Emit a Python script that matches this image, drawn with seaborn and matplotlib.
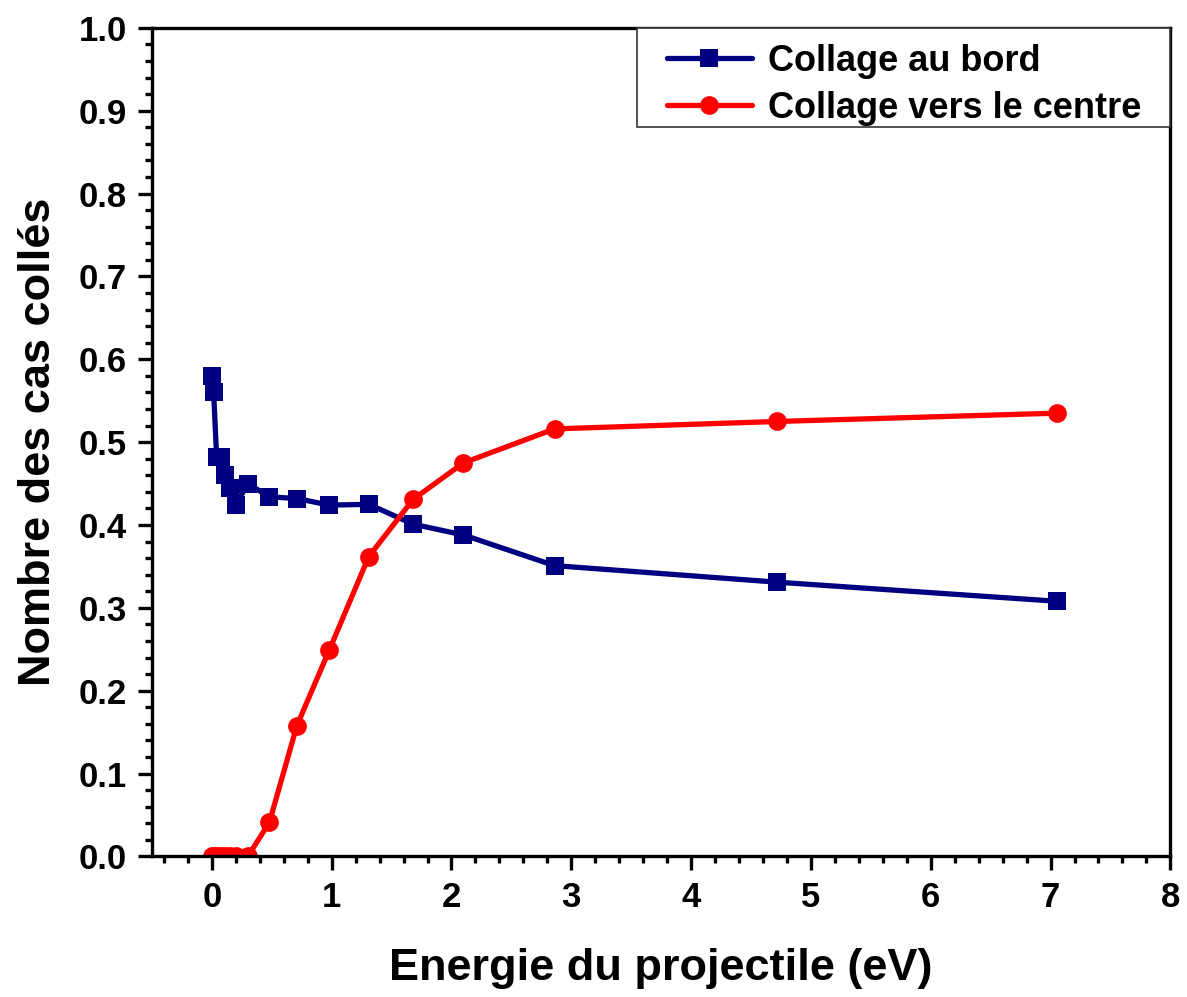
import pandas as pd
import matplotlib
matplotlib.use('Agg')
import matplotlib.pyplot as plt
import seaborn as sns
from matplotlib.patches import Rectangle
from matplotlib.ticker import MultipleLocator, AutoMinorLocator

# Valeurs
energie = [0, 0.015, 0.04, 0.075, 0.11, 0.15, 0.2, 0.3, 0.48, 0.71, 0.98,
           1.31, 1.68, 2.1, 2.86, 4.72, 7.05]
collage_bord = [0.58, 0.56, 0.482, 0.482, 0.46, 0.445, 0.424, 0.45, 0.434, 0.432,
                0.424, 0.425, 0.401, 0.388, 0.351, 0.331, 0.308]
collage_centre = [0, 0, 0, 0, 0, 0, 0, 0, 0.041, 0.158, 0.249,
                  0.362, 0.431, 0.475, 0.516, 0.525, 0.535]
series = ['Collage au bord', 'Collage vers le centre']

sns.set_style('ticks', {'axes.edgecolor': 'black', 'text.color': 'black',
                        'axes.labelcolor': 'black', 'xtick.color': 'black',
                        'ytick.color': 'black'})
plt.rcParams['font.family'] = ['Liberation Sans', 'DejaVu Sans']
plt.rcParams['font.weight'] = 'bold'

df = pd.concat([
    pd.DataFrame({'Energie': energie, 'Valeur': collage_bord, 'Série': series[0]}),
    pd.DataFrame({'Energie': energie, 'Valeur': collage_centre, 'Série': series[1]}),
])

fig = plt.figure(figsize=(11.87, 9.97), dpi=100)
ax = fig.add_axes([0.128, 0.141, 0.858, 0.831])

sns.lineplot(data=df, x='Energie', y='Valeur', hue='Série', style='Série',
             palette={series[0]: '#000080', series[1]: '#ff0000'},
             markers={series[0]: 's', series[1]: 'o'}, dashes=False,
             linewidth=3.8, markersize=13.5, markeredgewidth=0, sort=False, ax=ax)

ax.set_xlim(-0.5, 8)
ax.set_ylim(0, 1.0)
ax.xaxis.set_major_locator(MultipleLocator(1))
ax.xaxis.set_minor_locator(AutoMinorLocator(5))
ax.yaxis.set_major_locator(MultipleLocator(0.1))
ax.yaxis.set_minor_locator(AutoMinorLocator(5))
ax.yaxis.set_major_formatter(plt.FormatStrFormatter('%.1f'))

ax.tick_params(which='major', direction='out', length=10, width=2.4, labelsize=25,
               pad=8, colors='black')
ax.tick_params(which='minor', direction='out', length=5, width=2.4, colors='black')
ax.tick_params(top=False, right=False, which='both')
for lab in ax.get_xticklabels() + ax.get_yticklabels():
    lab.set_fontweight('bold')
for s in ax.spines.values():
    s.set_linewidth(2.4)
    s.set_color('black')

ax.set_xlabel('Energie du projectile (eV)', fontsize=32.5, fontweight='bold',
              labelpad=24, color='black')
ax.set_ylabel('Nombre des cas collés', fontsize=32.5, fontweight='bold',
              labelpad=14, color='black')

# legende : cadre rectangulaire plus large que le contenu
leg = ax.legend(loc='upper left', bbox_to_anchor=(667 / 1187, 1 - 44 / 997),
                bbox_transform=fig.transFigure, fontsize=26, frameon=False,
                borderpad=0, borderaxespad=0, handlelength=2.35,
                handletextpad=0.45, labelspacing=0.33)
leg.set_zorder(6)
for t in leg.get_texts():
    t.set_fontweight('bold')
    t.set_color('black')
cadre = Rectangle((637 / 1187, 1 - 127 / 997), 533 / 1187, 99 / 997,
                  transform=fig.transFigure, facecolor='white', edgecolor='#333333',
                  linewidth=1.2, zorder=5.5, clip_on=False)
ax.add_patch(cadre)

fig.savefig('out.png', dpi=100, facecolor='white')
